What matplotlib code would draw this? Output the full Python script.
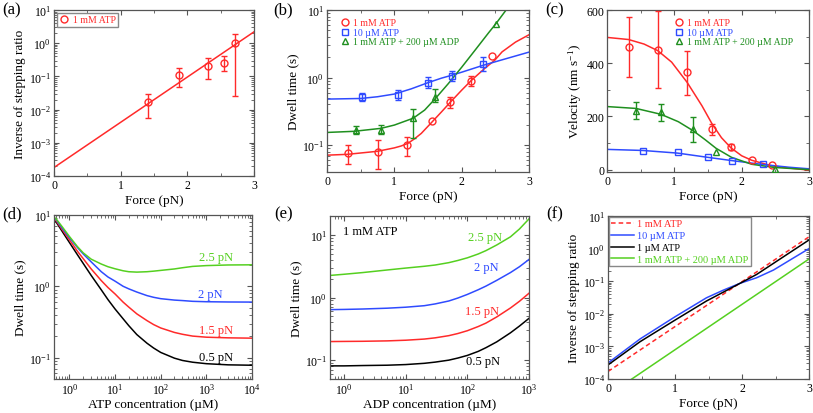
import numpy as np
import matplotlib
matplotlib.use("Agg")
import matplotlib.pyplot as plt
from matplotlib.lines import Line2D
from matplotlib.ticker import LogLocator, MultipleLocator, NullFormatter

plt.rcParams["font.family"] = ["Liberation Serif", "DejaVu Serif"]
plt.rcParams["mathtext.fontset"] = "custom"
plt.rcParams["mathtext.rm"] = "Liberation Serif"
plt.rcParams["mathtext.it"] = "Liberation Serif:italic"

nan = np.nan
RED, BLUE, DGREEN, LGREEN = "#ff2a2a", "#2f4bff", "#1f8f1f", "#55d020"

# ---- (a) inverse stepping ratio, 1 mM ATP
a_force = [1.41, 1.87, 2.31, 2.55, 2.71]
a_ratio = [0.017, 0.114, 0.21, 0.26, 1.02]
a_lo = [0.0054, 0.047, 0.085, 0.15, 0.026]
a_hi = [0.029, 0.18, 0.35, 0.40, 1.9]
a_fit_force = [0, 3]
a_fit_ratio = [1.8e-4, 2.2]

# ---- (b) dwell time vs force
b_f_1mM = [0.31, 0.757, 1.19, 1.56, 1.83, 2.14, 2.45]
b_t_1mM = [0.077, 0.080, 0.10, 0.226, 0.43, 0.90, 2.05]
b_lo_1mM = [0.053, 0.044, 0.070, nan, 0.35, 0.75, nan]
b_hi_1mM = [0.102, 0.121, 0.131, nan, 0.52, 1.06, nan]
b_f_10uM = [0.525, 1.055, 1.50, 1.85, 2.32]
b_t_10uM = [0.52, 0.55, 0.84, 1.06, 1.61]
b_lo_10uM = [0.45, 0.46, 0.70, 0.88, 1.24]
b_hi_10uM = [0.59, 0.65, 1.02, 1.26, 2.0]
b_f_adp = [0.425, 0.80, 1.28, 1.61, 2.51]
b_t_adp = [0.167, 0.170, 0.248, 0.52, 6.3]
b_lo_adp = [0.144, 0.144, 0.126, 0.44, nan]
b_hi_adp = [0.19, 0.198, 0.34, 0.67, nan]

b_fit_f_1mM = [0, 0.3, 0.75, 1.0, 1.1, 1.2, 1.3, 1.4, 1.56, 1.7, 1.83, 2.0, 2.14, 2.34, 2.49, 2.6, 2.8, 3.0]
b_fit_t_1mM = [0.071, 0.073, 0.081, 0.091, 0.097, 0.106, 0.124, 0.149, 0.22, 0.31, 0.43, 0.65, 0.90,
               1.36, 1.8, 2.4, 3.35, 4.3]
b_fit_f_10uM = [0, 0.5, 0.75, 1.0, 1.25, 1.5, 1.7, 1.85, 2.0, 2.32, 2.6, 3.0]
b_fit_t_10uM = [0.48, 0.49, 0.52, 0.57, 0.68, 0.84, 0.98, 1.08, 1.2, 1.52, 1.83, 2.38]
b_fit_f_adp = [0, 0.4, 0.8, 1.0, 1.28, 1.45, 1.61, 1.8, 2.0, 2.2, 2.4, 2.51, 2.66, 2.8]
b_fit_t_adp = [0.154, 0.16, 0.177, 0.198, 0.25, 0.33, 0.49, 0.81, 1.42, 2.55, 4.6, 6.3, 10.0, 15.0]

# ---- (c) velocity vs force
c_f_1mM = [0.32, 0.755, 1.19, 1.56, 1.84, 2.15, 2.45]
c_v_1mM = [460, 451, 366, 154, 85, 36, 19]
c_lo_1mM = [350, 307, 279, 129, 72, nan, nan]
c_hi_1mM = [572, 597, 447, 172, 97, nan, nan]
c_f_10uM = [0.53, 1.05, 1.50, 1.85, 2.32]
c_v_10uM = [70, 65, 46, 34, 21]
c_f_adp = [0.43, 0.80, 1.28, 1.62, 2.49]
c_v_adp = [222, 216, 151, 66, 4]
c_lo_adp = [191, 181, 104, nan, nan]
c_hi_adp = [254, 247, 197, nan, nan]

c_fit_f_1mM = [0, 0.32, 0.55, 0.755, 0.96, 1.19, 1.41, 1.56, 1.7, 1.84, 2.0, 2.15, 2.45, 2.7, 3.0]
c_fit_v_1mM = [497, 489, 472, 447, 404, 328, 240, 172, 120, 82, 52, 35, 14, 6, -2]
c_fit_f_10uM = [0, 0.53, 1.05, 1.5, 1.85, 2.32, 2.7, 3.0]
c_fit_v_10uM = [76, 72, 62, 46, 34, 19, 9, 3]
c_fit_f_adp = [0, 0.43, 0.8, 1.06, 1.28, 1.46, 1.62, 1.85, 2.15, 2.49, 3.0]
c_fit_v_adp = [237, 230, 208, 180, 146, 112, 80, 46, 20, 8, 0]

# ---- (d) dwell time vs ATP concentration
d_atp = [0.5, 0.7, 1, 1.5, 2, 3, 5, 7, 10, 15, 20, 30, 50, 70, 100, 200, 300, 500, 1000, 3000, 10000]
d_05pN = [8.16, 5.85, 4.12, 2.77, 2.10, 1.42, 0.89, 0.65, 0.48, 0.35, 0.28, 0.21, 0.159, 0.136, 0.118,
          0.098, 0.091, 0.086, 0.082, 0.079, 0.078]
d_15pN = [8.5, 6.2, 4.5, 3.1, 2.45, 1.75, 1.2, 0.96, 0.78, 0.6, 0.51, 0.41, 0.33, 0.29, 0.26,
          0.225, 0.212, 0.2, 0.193, 0.189, 0.187]
d_2pN = [8.8, 6.5, 4.8, 3.5, 2.85, 2.2, 1.6, 1.35, 1.18, 1.0, 0.92, 0.83, 0.74, 0.7, 0.67,
         0.64, 0.63, 0.615, 0.607, 0.602, 0.60]
d_25pN = [9.0, 6.8, 5.0, 3.6, 2.95, 2.4, 2.05, 1.88, 1.76, 1.65, 1.6, 1.58, 1.6, 1.63, 1.67,
          1.75, 1.82, 1.9, 1.95, 1.99, 2.0]

# ---- (e) dwell time vs ADP concentration (1 mM ATP)
e_adp = [0.59, 1, 2, 5, 10, 20, 30, 50, 70, 100, 150, 200, 300, 500, 700, 1000]
e_05pN = [0.081, 0.081, 0.082, 0.083, 0.085, 0.089, 0.093, 0.100, 0.108, 0.119, 0.138, 0.158, 0.196,
          0.273, 0.35, 0.465]
e_15pN = [0.198, 0.199, 0.2, 0.203, 0.208, 0.217, 0.227, 0.246, 0.266, 0.295, 0.344, 0.39, 0.49,
          0.68, 0.87, 1.17]
e_2pN = [0.64, 0.645, 0.655, 0.675, 0.70, 0.74, 0.79, 0.88, 0.98, 1.12, 1.33, 1.52, 1.88, 2.5, 3.1, 4.05]
e_25pN = [2.25, 2.35, 2.5, 2.75, 2.95, 3.15, 3.3, 3.6, 3.9, 4.3, 4.95, 5.6, 6.9, 9.3, 12.4, 18.0]

# ---- (f) predicted inverse stepping ratio
f_force = [0, 0.48, 1.0, 1.47, 1.72, 1.97, 2.22, 2.47, 2.72, 3.0]
f_1uM = [2.7e-4, 1.4e-3, 6.4e-3, 0.0247, 0.046, 0.086, 0.162, 0.353, 0.77, 1.84]
f_10uM = [3.1e-4, 1.7e-3, 8.1e-3, 0.031, 0.053, 0.086, 0.128, 0.22, 0.45, 1.0]
f_line_force = [0, 3]
f_1mM = [1.7e-4, 2.3]
f_adp = [3.2e-5, 0.48]


def style(ax, logy=False, logx=False):
    for s in ax.spines.values():
        s.set_color("#555555")
        s.set_linewidth(0.9)
    ax.tick_params(which="both", direction="in", top=True, right=True, labelsize=8.5,
                   color="#555555", pad=2)
    ax.tick_params(which="major", length=3.5)
    ax.tick_params(which="minor", length=2)
    if logy:
        ax.set_yscale("log")
        ax.yaxis.set_major_locator(LogLocator(base=10, numticks=10))
        ax.yaxis.set_minor_locator(LogLocator(base=10, subs=np.arange(2, 10), numticks=10))
        ax.yaxis.set_minor_formatter(NullFormatter())
    if logx:
        ax.set_xscale("log")
        ax.xaxis.set_major_locator(LogLocator(base=10, numticks=10))
        ax.xaxis.set_minor_locator(LogLocator(base=10, subs=np.arange(2, 10), numticks=10))
        ax.xaxis.set_minor_formatter(NullFormatter())
    else:
        ax.xaxis.set_major_locator(MultipleLocator(1))
        ax.xaxis.set_minor_locator(MultipleLocator(0.5))


def errpts(ax, x, y, lo, hi, color, marker):
    y = np.array(y, float)
    yerr = [y - np.array(lo, float), np.array(hi, float) - y]
    ax.errorbar(x, y, yerr=yerr, fmt=marker, mfc="none", mec=color, ecolor=color, ms=5,
                mew=1, elinewidth=1, capsize=2, capthick=1, zorder=3)


fig = plt.figure(figsize=(8.13, 4.14), dpi=100)
W, H = 813, 414


def add_axes(l, t, r, b):
    return fig.add_axes([l / W, 1 - b / H, (r - l) / W, (b - t) / H])


mk = dict(ls="none", mfc="none", ms=5, mew=1)

# (a)
ax = add_axes(54, 11, 254, 177)
style(ax, logy=True)
ax.plot(a_fit_force, a_fit_ratio, color=RED, lw=1.1)
errpts(ax, a_force, a_ratio, a_lo, a_hi, RED, "o")
ax.set_xlim(0, 3)
ax.set_ylim(1e-4, 10)
ax.set_xlabel("Force (pN)", fontsize=9.5, labelpad=2)
ax.set_ylabel("Inverse of stepping ratio", fontsize=9.5, labelpad=2)
ax.legend([Line2D([], [], marker="o", mec=RED, **mk)], ["1 mM ATP"], loc="upper left",
          fontsize=7, labelcolor=RED, fancybox=False, edgecolor="#888888", framealpha=1,
          handlelength=1, handletextpad=0.4, borderpad=0.25, borderaxespad=0.3)

# (b)
ax = add_axes(327, 11, 529, 173)
style(ax, logy=True)
ax.plot(b_fit_f_1mM, b_fit_t_1mM, color=RED, lw=1.1)
ax.plot(b_fit_f_10uM, b_fit_t_10uM, color=BLUE, lw=1.1)
ax.plot(b_fit_f_adp, b_fit_t_adp, color=DGREEN, lw=1.1)
errpts(ax, b_f_1mM, b_t_1mM, b_lo_1mM, b_hi_1mM, RED, "o")
errpts(ax, b_f_10uM, b_t_10uM, b_lo_10uM, b_hi_10uM, BLUE, "s")
errpts(ax, b_f_adp, b_t_adp, b_lo_adp, b_hi_adp, DGREEN, "^")
ax.set_xlim(0, 3)
ax.set_ylim(0.04, 10)
ax.set_xlabel("Force (pN)", fontsize=9.5, labelpad=2)
ax.set_ylabel("Dwell time (s)", fontsize=9.5, labelpad=2)
handles = [Line2D([], [], marker="o", mec=RED, **mk), Line2D([], [], marker="s", mec=BLUE, **mk),
           Line2D([], [], marker="^", mec=DGREEN, **mk)]
labels = ["1 mM ATP", "10 µM ATP", "1 mM ATP + 200 µM ADP"]
ax.legend(handles, labels, loc="upper left", bbox_to_anchor=(0.03, 0.99), frameon=False,
          fontsize=7, labelcolor=[RED, BLUE, DGREEN], handlelength=1, handletextpad=0.3,
          labelspacing=0.05, borderpad=0.2)

# (c)
ax = add_axes(607, 11, 809, 173)
style(ax)
ax.plot(c_fit_f_1mM, c_fit_v_1mM, color=RED, lw=1.1)
ax.plot(c_fit_f_10uM, c_fit_v_10uM, color=BLUE, lw=1.1)
ax.plot(c_fit_f_adp, c_fit_v_adp, color=DGREEN, lw=1.1)
errpts(ax, c_f_1mM, c_v_1mM, c_lo_1mM, c_hi_1mM, RED, "o")
ax.plot(c_f_10uM, c_v_10uM, marker="s", mec=BLUE, zorder=3, **mk)
errpts(ax, c_f_adp, c_v_adp, c_lo_adp, c_hi_adp, DGREEN, "^")
ax.set_xlim(0, 3)
ax.set_ylim(-9, 600)
ax.yaxis.set_major_locator(MultipleLocator(200))
ax.yaxis.set_minor_locator(MultipleLocator(100))
ax.set_xlabel("Force (pN)", fontsize=9.5, labelpad=2)
ax.set_ylabel("Velocity (nm s$^{-1}$)", fontsize=9.5, labelpad=2)
ax.legend(handles, labels, loc="upper left", bbox_to_anchor=(0.3, 0.99), frameon=False,
          fontsize=7, labelcolor=[RED, BLUE, DGREEN], handlelength=1, handletextpad=0.3,
          labelspacing=0.05, borderpad=0.2)

# (d)
ax = add_axes(54, 216, 252, 380)
style(ax, logy=True, logx=True)
for y, c in [(d_05pN, "black"), (d_15pN, RED), (d_2pN, BLUE), (d_25pN, LGREEN)]:
    ax.plot(d_atp, y, color=c, lw=1.1)
ax.set_xlim(0.46, 1e4)
ax.set_ylim(0.05, 10)
for txt, fx, fy, c in [("2.5 pN", 0.82, 0.744, LGREEN), ("2 pN", 0.79, 0.518, BLUE),
                       ("1.5 pN", 0.82, 0.30, RED), ("0.5 pN", 0.82, 0.134, "black")]:
    ax.text(fx, fy, txt, color=c, fontsize=9, ha="center", va="center", transform=ax.transAxes)
ax.set_xlabel("ATP concentration (µM)", fontsize=9.5, labelpad=1)
ax.set_ylabel("Dwell time (s)", fontsize=9.5, labelpad=2)

# (e)
ax = add_axes(330, 217, 529, 380)
style(ax, logy=True, logx=True)
for y, c in [(e_05pN, "black"), (e_15pN, RED), (e_2pN, BLUE), (e_25pN, LGREEN)]:
    ax.plot(e_adp, y, color=c, lw=1.1)
ax.set_xlim(0.59, 1000)
ax.set_ylim(0.05, 20)
for txt, fx, fy, c in [("1 mM ATP", 0.2, 0.91, "black"), ("2.5 pN", 0.777, 0.873, LGREEN),
                       ("2 pN", 0.785, 0.689, BLUE), ("1.5 pN", 0.764, 0.419, RED),
                       ("0.5 pN", 0.769, 0.112, "black")]:
    ax.text(fx, fy, txt, color=c, fontsize=9, ha="center", va="center", transform=ax.transAxes)
ax.set_xlabel("ADP concentration (µM)", fontsize=9.5, labelpad=1)
ax.set_ylabel("Dwell time (s)", fontsize=9.5, labelpad=2)

# (f)
ax = add_axes(608, 217, 809, 380)
style(ax, logy=True)
l1, = ax.plot(f_line_force, f_1mM, color=RED, lw=1.1, ls=(0, (3, 2)))
l2, = ax.plot(f_force, f_10uM, color=BLUE, lw=1.1)
l3, = ax.plot(f_force, f_1uM, color="black", lw=1.1)
l4, = ax.plot(f_line_force, f_adp, color=LGREEN, lw=1.1)
ax.set_xlim(0, 3)
ax.set_ylim(1e-4, 10)
ax.set_xlabel("Force (pN)", fontsize=9.5, labelpad=2)
ax.set_ylabel("Inverse of stepping ratio", fontsize=9.5, labelpad=2)
ax.legend([l1, l2, l3, l4], ["1 mM ATP", "10 µM ATP", "1 µM ATP", "1 mM ATP + 200 µM ADP"],
          loc="upper left", fontsize=7.5, labelcolor=[RED, BLUE, "black", LGREEN],
          fancybox=False, edgecolor="#888888", framealpha=1, handlelength=2.2,
          handletextpad=0.3, labelspacing=0.25, borderpad=0.2, borderaxespad=0.1)

for txt, x, y in [("(a)", 12, 10), ("(b)", 283, 10), ("(c)", 555, 10),
                  ("(d)", 12, 214), ("(e)", 284, 214), ("(f)", 555, 214)]:
    fig.text(x / W, 1 - y / H, txt, fontsize=12, ha="center", va="center")

fig.savefig("out.png", dpi=100)
